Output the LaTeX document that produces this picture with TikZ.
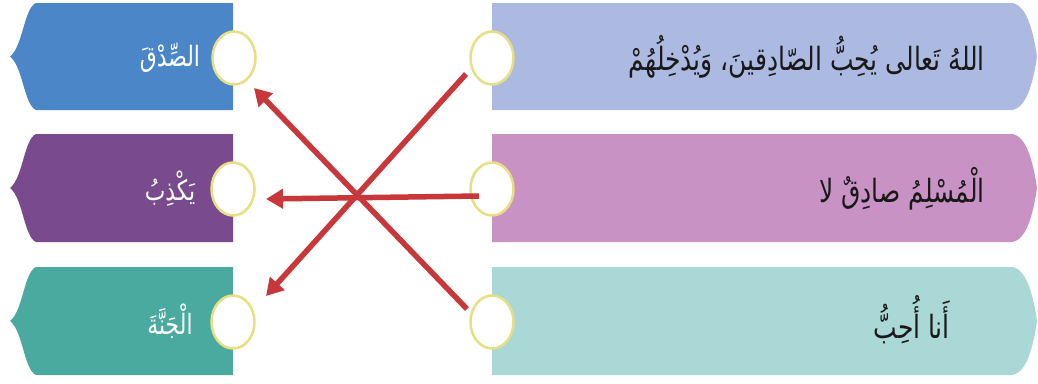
\documentclass[tikz,border=0pt]{standalone}
\usepackage{fontspec}
\usepackage{graphicx}
\usetikzlibrary{arrows.meta,shapes.geometric}
\TeXXeTstate=1
\newfontfamily\arabicfont[Script=Arabic]{DejaVu Sans}
\definecolor{lblue}{RGB}{74,134,200}
\definecolor{lpurple}{RGB}{122,74,142}
\definecolor{lteal}{RGB}{74,170,160}
\definecolor{rblue}{RGB}{172,186,226}
\definecolor{rpink}{RGB}{201,146,196}
\definecolor{rteal}{RGB}{170,216,214}
\definecolor{ringc}{RGB}{232,222,130}
\definecolor{arrowred}{RGB}{200,56,58}
\newcommand\mylefttag[3]{%
  \pgfmathsetmacro\myT{#1}\pgfmathsetmacro\myB{#2}%
  \pgfmathsetmacro\myM{(#1+#2)/2}%
  \pgfmathsetmacro\myMa{\myM-10}\pgfmathsetmacro\myMb{\myM+10}%
  \pgfmathsetmacro\myTa{\myT+5}\pgfmathsetmacro\myBa{\myB-5}%
  \fill[#3] (233,\myT) -- (36,\myT) .. controls (24,\myTa) and (23,\myMa) .. (10,\myM)
    .. controls (23,\myMb) and (24,\myBa) .. (36,\myB) -- (233,\myB) -- cycle;}
\newcommand\myrighttag[3]{%
  \pgfmathsetmacro\myT{#1}\pgfmathsetmacro\myB{#2}%
  \pgfmathsetmacro\myM{(#1+#2)/2}%
  \pgfmathsetmacro\myMa{\myM-20}\pgfmathsetmacro\myMb{\myM+20}%
  \pgfmathsetmacro\myTa{\myT+2}\pgfmathsetmacro\myBa{\myB-2}%
  \fill[#3] (492,\myT) -- (1012,\myT) .. controls (1028,\myTa) and (1034,\myMa) .. (1037,\myM)
    .. controls (1034,\myMb) and (1028,\myBa) .. (1012,\myB) -- (492,\myB) -- cycle;}
\newcommand\mynarrow[1]{\scalebox{0.78}[1]{#1}}
\tikzset{
  ring/.style={ellipse, fill=white, draw=ringc, line width=2.5pt, minimum width=43pt, minimum height=53pt, inner sep=0pt},
  lefttext/.style={text=white, font=\arabicfont\fontsize{28}{32}\selectfont, inner sep=0pt},
  righttext/.style={text=black!90, font=\arabicfont\fontsize{32}{38}\selectfont, inner sep=0pt},
  matcharrow/.style={draw=arrowred, line width=5.5pt, -{Triangle[length=17pt,width=19pt]}}
}
\begin{document}
\begin{tikzpicture}[x=1pt,y=-1pt]
\useasboundingbox[fill=white] (0,0) rectangle (1038,383);
\mylefttag{3}{110}{lblue}
\mylefttag{134}{242}{lpurple}
\mylefttag{267}{375}{lteal}
\myrighttag{3}{110}{rblue}
\myrighttag{134}{242}{rpink}
\myrighttag{267}{375}{rteal}
\node[ring] (l1) at (234,58) {};
\node[ring] (l2) at (233,189) {};
\node[ring] (l3) at (233,322) {};
\node[ring] (r1) at (492,58) {};
\node[ring] (r2) at (492,189) {};
\node[ring] (r3) at (492,322) {};
\node[lefttext] (tl1) at (170,58) {\mynarrow{\beginR الصِّدْقَ\endR}};
\node[lefttext] (tl2) at (170,189) {\mynarrow{\beginR يَكْذِبُ\endR}};
\node[lefttext] (tl3) at (170,321) {\mynarrow{\beginR الْجَنَّةَ\endR}};
\node[righttext, anchor=east] (tr1) at (985,57) {\mynarrow{\beginR اللهُ تَعالى يُحِبُّ الصّادِقينَ، وَيُدْخِلُهُمْ\endR}};
\node[righttext, anchor=east] (tr2) at (985,189) {\mynarrow{\beginR الْمُسْلِمُ صادِقٌ لا\endR}};
\node[righttext, anchor=east] (tr3) at (950,320) {\mynarrow{\beginR أَنا أُحِبُّ\endR}};
\coordinate (a1s) at (466,74);
\coordinate (a1e) at (266,296);
\coordinate (a2s) at (479,196);
\coordinate (a2e) at (266,199);
\coordinate (a3s) at (467,309);
\coordinate (a3e) at (254,88);
\draw[matcharrow] (a1s) -- (a1e);
\draw[matcharrow] (a2s) -- (a2e);
\draw[matcharrow] (a3s) -- (a3e);
\end{tikzpicture}
\end{document}
